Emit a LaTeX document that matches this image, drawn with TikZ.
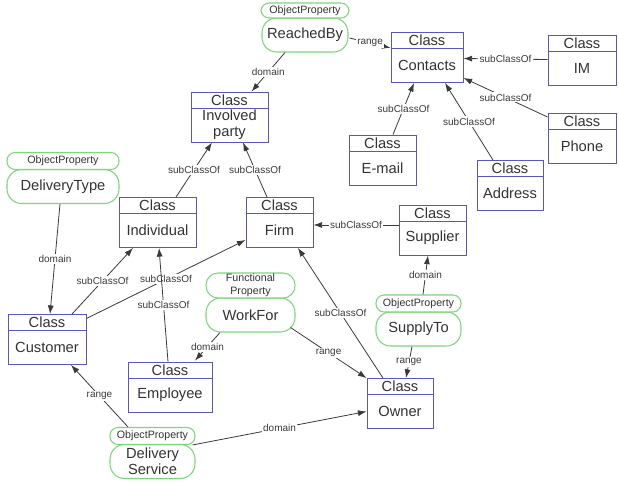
\documentclass[tikz,border=0pt]{standalone}
\usepackage{fontspec}
\setmainfont{Liberation Sans}
\usetikzlibrary{calc, positioning, arrows.meta}
\definecolor{clsblue}{HTML}{5858B8}
\definecolor{propgreen}{HTML}{7CD67C}
\definecolor{txtgray}{HTML}{333333}
\definecolor{edgegray}{HTML}{3A3A3A}

\begin{document}
\begin{tikzpicture}[
    x=0.75pt, y=-0.75pt,
    >={Latex[length=6.5pt,width=4.5pt]},
    clshead/.style={draw=clsblue, line width=0.65pt, rectangle, minimum height=12pt, inner sep=0pt, fill=white, text=txtgray, font=\fontsize{11}{12}\selectfont, align=center},
    clsbody/.style={clshead, minimum height=25.5pt},
    prophead/.style={draw=propgreen, line width=0.8pt, rounded corners=6pt, minimum height=12.75pt, inner sep=0pt, fill=white, text=txtgray, font=\fontsize{8}{9}\selectfont, align=center},
    propbody/.style={prophead, rounded corners=11pt, minimum height=25.5pt, font=\fontsize{11}{12}\selectfont},
    rel/.style={->, draw=edgegray, line width=0.6pt},
    lbl/.style={fill=white, inner sep=1pt, text=edgegray, font=\fontsize{7.5}{8}\selectfont},
]
    \useasboundingbox (0,0) rectangle (619,483);

    % Classes
    \node[clsbody, minimum width=54pt] (contacts) at (427,65.5) {Contacts};
    \node[clshead, minimum width=54pt, above=-0.65pt of contacts] (contactsH) {Class};
    \node[clsbody, minimum width=51pt] (im) at (582,68.5) {IM};
    \node[clshead, minimum width=51pt, above=-0.65pt of im] (imH) {Class};
    \node[clsbody, minimum width=51pt] (phone) at (582,146) {Phone};
    \node[clshead, minimum width=51pt, above=-0.65pt of phone] (phoneH) {Class};
    \node[clsbody, minimum width=50.25pt] (email) at (382.5,168) {E-mail};
    \node[clshead, minimum width=50.25pt, above=-0.65pt of email] (emailH) {Class};
    \node[clsbody, minimum width=49.5pt] (address) at (510,193.5) {Address};
    \node[clshead, minimum width=49.5pt, above=-0.65pt of address] (addressH) {Class};
    \node[clsbody, minimum width=57.75pt] (involved) at (229.5,125) {Involved\\party};
    \node[clshead, minimum width=57.75pt, above=-0.65pt of involved] (involvedH) {Class};
    \node[clsbody, minimum width=57.75pt] (individual) at (157.5,230.5) {Individual};
    \node[clshead, minimum width=57.75pt, above=-0.65pt of individual] (individualH) {Class};
    \node[clsbody, minimum width=50.25pt] (firm) at (279.5,230.5) {Firm};
    \node[clshead, minimum width=50.25pt, above=-0.65pt of firm] (firmH) {Class};
    \node[clsbody, minimum width=50.25pt] (supplier) at (432.5,238) {Supplier};
    \node[clshead, minimum width=50.25pt, above=-0.65pt of supplier] (supplierH) {Class};
    \node[clsbody, minimum width=58.5pt] (customer) at (47,347.5) {Customer};
    \node[clshead, minimum width=58.5pt, above=-0.65pt of customer] (customerH) {Class};
    \node[clsbody, minimum width=63pt] (employee) at (170,395) {Employee};
    \node[clshead, minimum width=63pt, above=-0.65pt of employee] (employeeH) {Class};
    \node[clsbody, minimum width=49.5pt] (owner) at (400,411.5) {Owner};
    \node[clshead, minimum width=49.5pt, above=-0.65pt of owner] (ownerH) {Class};

    % Properties
    \node[propbody, minimum width=64.5pt] (reached) at (305,35) {ReachedBy};
    \node[prophead, minimum width=66pt, minimum height=11.25pt, above=-0.8pt of reached] (reachedH) {ObjectProperty};
    \node[propbody, minimum width=84pt] (deltype) at (63,186.5) {DeliveryType};
    \node[prophead, minimum width=84pt, above=-0.8pt of deltype] (deltypeH) {ObjectProperty};
    \node[propbody, minimum width=66.75pt] (workfor) at (250.5,315) {WorkFor};
    \node[prophead, minimum width=66.75pt, minimum height=18.75pt, rounded corners=9pt, font=\fontsize{8}{9.5}\selectfont, above=-0.8pt of workfor] (workforH) {Functional\\Property};
    \node[propbody, minimum width=63.75pt] (supplyto) at (418.5,329) {SupplyTo};
    \node[prophead, minimum width=63.75pt, above=-0.8pt of supplyto] (supplytoH) {ObjectProperty};
    \node[propbody, minimum width=63.75pt] (delserv) at (152.5,461.5) {Delivery\\Service};
    \node[prophead, minimum width=63.75pt, above=-0.8pt of delserv] (delservH) {ObjectProperty};

    % Contacts part
    \draw[rel] ($(reached.south)+(-20,0)$) -- node[lbl] {domain} ($(involvedH.north)+(22,0)$);
    \draw[rel] ($(reached.east)+(1,3)$) -- node[lbl] {range} ($(contactsH.south west)+(0,-1)$);
    \draw[rel] ($(im.west)+(0,-9)$) -- node[lbl] {subClassOf} ($(contacts.east)+(0,-7)$);
    \draw[rel] ($(phoneH.west)+(0,-4)$) -- node[lbl] {subClassOf} ($(contacts.south east)+(0,-5)$);
    \draw[rel] ($(emailH.north)+(10.5,0)$) -- node[lbl] {subClassOf} ($(contacts.south)+(-13,0)$);
    \draw[rel] ($(addressH.north)+(-17,0)$) -- node[lbl] {subClassOf} ($(contacts.south)+(18,0)$);

    % Party part
    \draw[rel] ($(individualH.north)+(18.5,0)$) -- node[lbl] {subClassOf} ($(involved.south)+(-17.5,0)$);
    \draw[rel] ($(firmH.north)+(-12.5,0)$) -- node[lbl] {subClassOf} ($(involved.south)+(13.5,0)$);
    \draw[rel] ($(supplier.west)+(0,-13)$) -- node[lbl] {subClassOf} ($(firm.east)+(0,-5.5)$);
    \draw[rel] ($(supplytoH.north)+(4.5,0)$) -- node[lbl] {domain} ($(supplier.south)+(-4.5,0)$);
    \draw[rel] ($(deltype.south)+(-3,0)$) -- node[lbl] {domain} ($(customerH.north)+(3,0)$);
    \draw[rel] ($(customerH.north)+(25,0)$) -- node[lbl] {subClassOf} ($(individual.south)+(-24.5,0)$);
    \draw[rel] ($(customerH.east)+(0,-4)$) -- node[lbl] {subClassOf} ($(firm.west)+(0,9.5)$);
    \draw[rel] ($(employeeH.north)+(-2,0)$) -- node[lbl] {subClassOf} ($(individual.south)+(1.5,0)$);
    \draw[rel] ($(ownerH.north)+(-17,0)$) -- node[lbl] {subClassOf} ($(firm.south)+(18.5,0)$);

    % Properties of persons
    \draw[rel] ($(workfor.south)+(-30.5,0)$) -- node[lbl] {domain} ($(employeeH.north)+(25,-1)$);
    \draw[rel] ($(workfor.south east)+(-5,-5)$) -- node[lbl] {range} (ownerH.north west);
    \draw[rel] ($(supplyto.south)+(-6.5,0)$) -- node[lbl] {range} ($(ownerH.north)+(6,0)$);
    \draw[rel] ($(delservH.north)+(-24.5,0)$) -- node[lbl] {range} ($(customer.south)+(24,0)$);
    \draw[rel] ($(delserv.north east)+(-3,1)$) -- node[lbl] {domain} (owner.west);

\end{tikzpicture}
\end{document}
